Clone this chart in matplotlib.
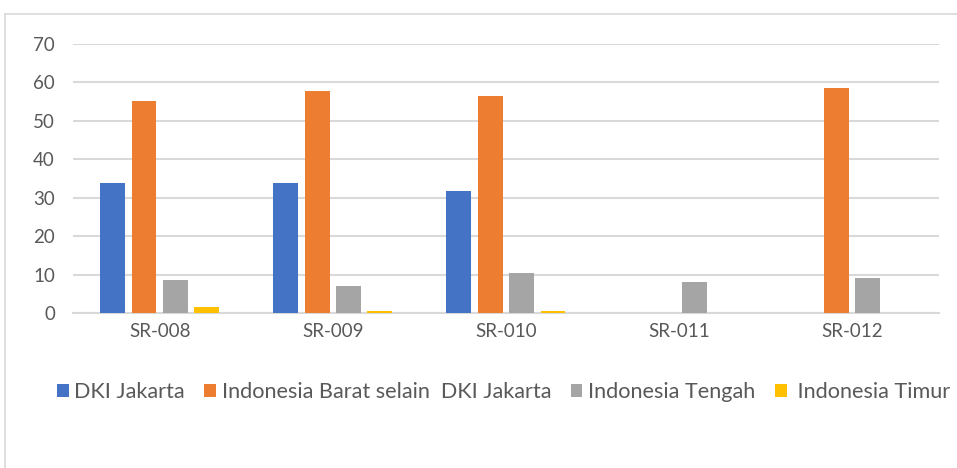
import matplotlib.pyplot as plt
import numpy as np
from matplotlib.lines import Line2D

plt.rcParams['font.family'] = ['Lato', 'DejaVu Sans']

# data
categories = ['SR-008', 'SR-009', 'SR-010', 'SR-011', 'SR-012']
dki = [33.9, 33.9, 31.9, np.nan, np.nan]
barat = [55.2, 57.8, 56.6, np.nan, 58.5]
tengah = [8.6, 7.1, 10.4, 8.1, 9.1]
timur = [1.55, 0.6, 0.6, np.nan, np.nan]
series_names = ['DKI Jakarta', 'Indonesia Barat selain  DKI Jakarta',
                'Indonesia Tengah', ' Indonesia Timur']
colors = ['#4472C4', '#ED7D31', '#A5A5A5', '#FFC000']

fig = plt.figure(figsize=(9.57, 4.68), dpi=100)
ax = fig.add_axes([0.0763, 0.3306, 0.9047, 0.5754])

x = np.arange(len(categories))
w = 0.144
offsets = [-0.272, -0.09, 0.09, 0.272]
for vals, off, c, name in zip([dki, barat, tengah, timur], offsets, colors, series_names):
    ax.bar(x + off, vals, width=w, color=c, label=name, zorder=3)

ax.set_xlim(-0.5, 4.5)
ax.set_ylim(0, 70)
ax.set_yticks(range(0, 71, 10))
ax.set_xticks(x)
ax.set_xticklabels(categories)
ax.grid(axis='y', color='#D9D9D9', linewidth=1.5, zorder=0)
for s in ['top', 'right', 'left']:
    ax.spines[s].set_visible(False)
ax.spines['bottom'].set_color('#D9D9D9')
ax.spines['bottom'].set_linewidth(1.5)
ax.tick_params(axis='both', length=0, labelsize=13.5, labelcolor='#595959')
ax.tick_params(axis='y', pad=13)
ax.tick_params(axis='x', pad=7)

leg = fig.legend(loc='center', ncol=4, frameon=False,
                 fontsize=15.6, labelcolor='#595959', handlelength=0.55, handleheight=0.55,
                 handletextpad=0.25, columnspacing=0.9, borderaxespad=0)
leg.set_bbox_to_anchor((0.526, 1 - 392 / 468), transform=fig.transFigure)

# chart frame
fig.add_artist(Line2D([5 / 957, 5 / 957], [0, 1 - 14 / 468], color='#D9D9D9', lw=1.2))
fig.add_artist(Line2D([5 / 957, 1], [1 - 14 / 468, 1 - 14 / 468], color='#D9D9D9', lw=1.2))

fig.savefig('out.png', dpi=100)
